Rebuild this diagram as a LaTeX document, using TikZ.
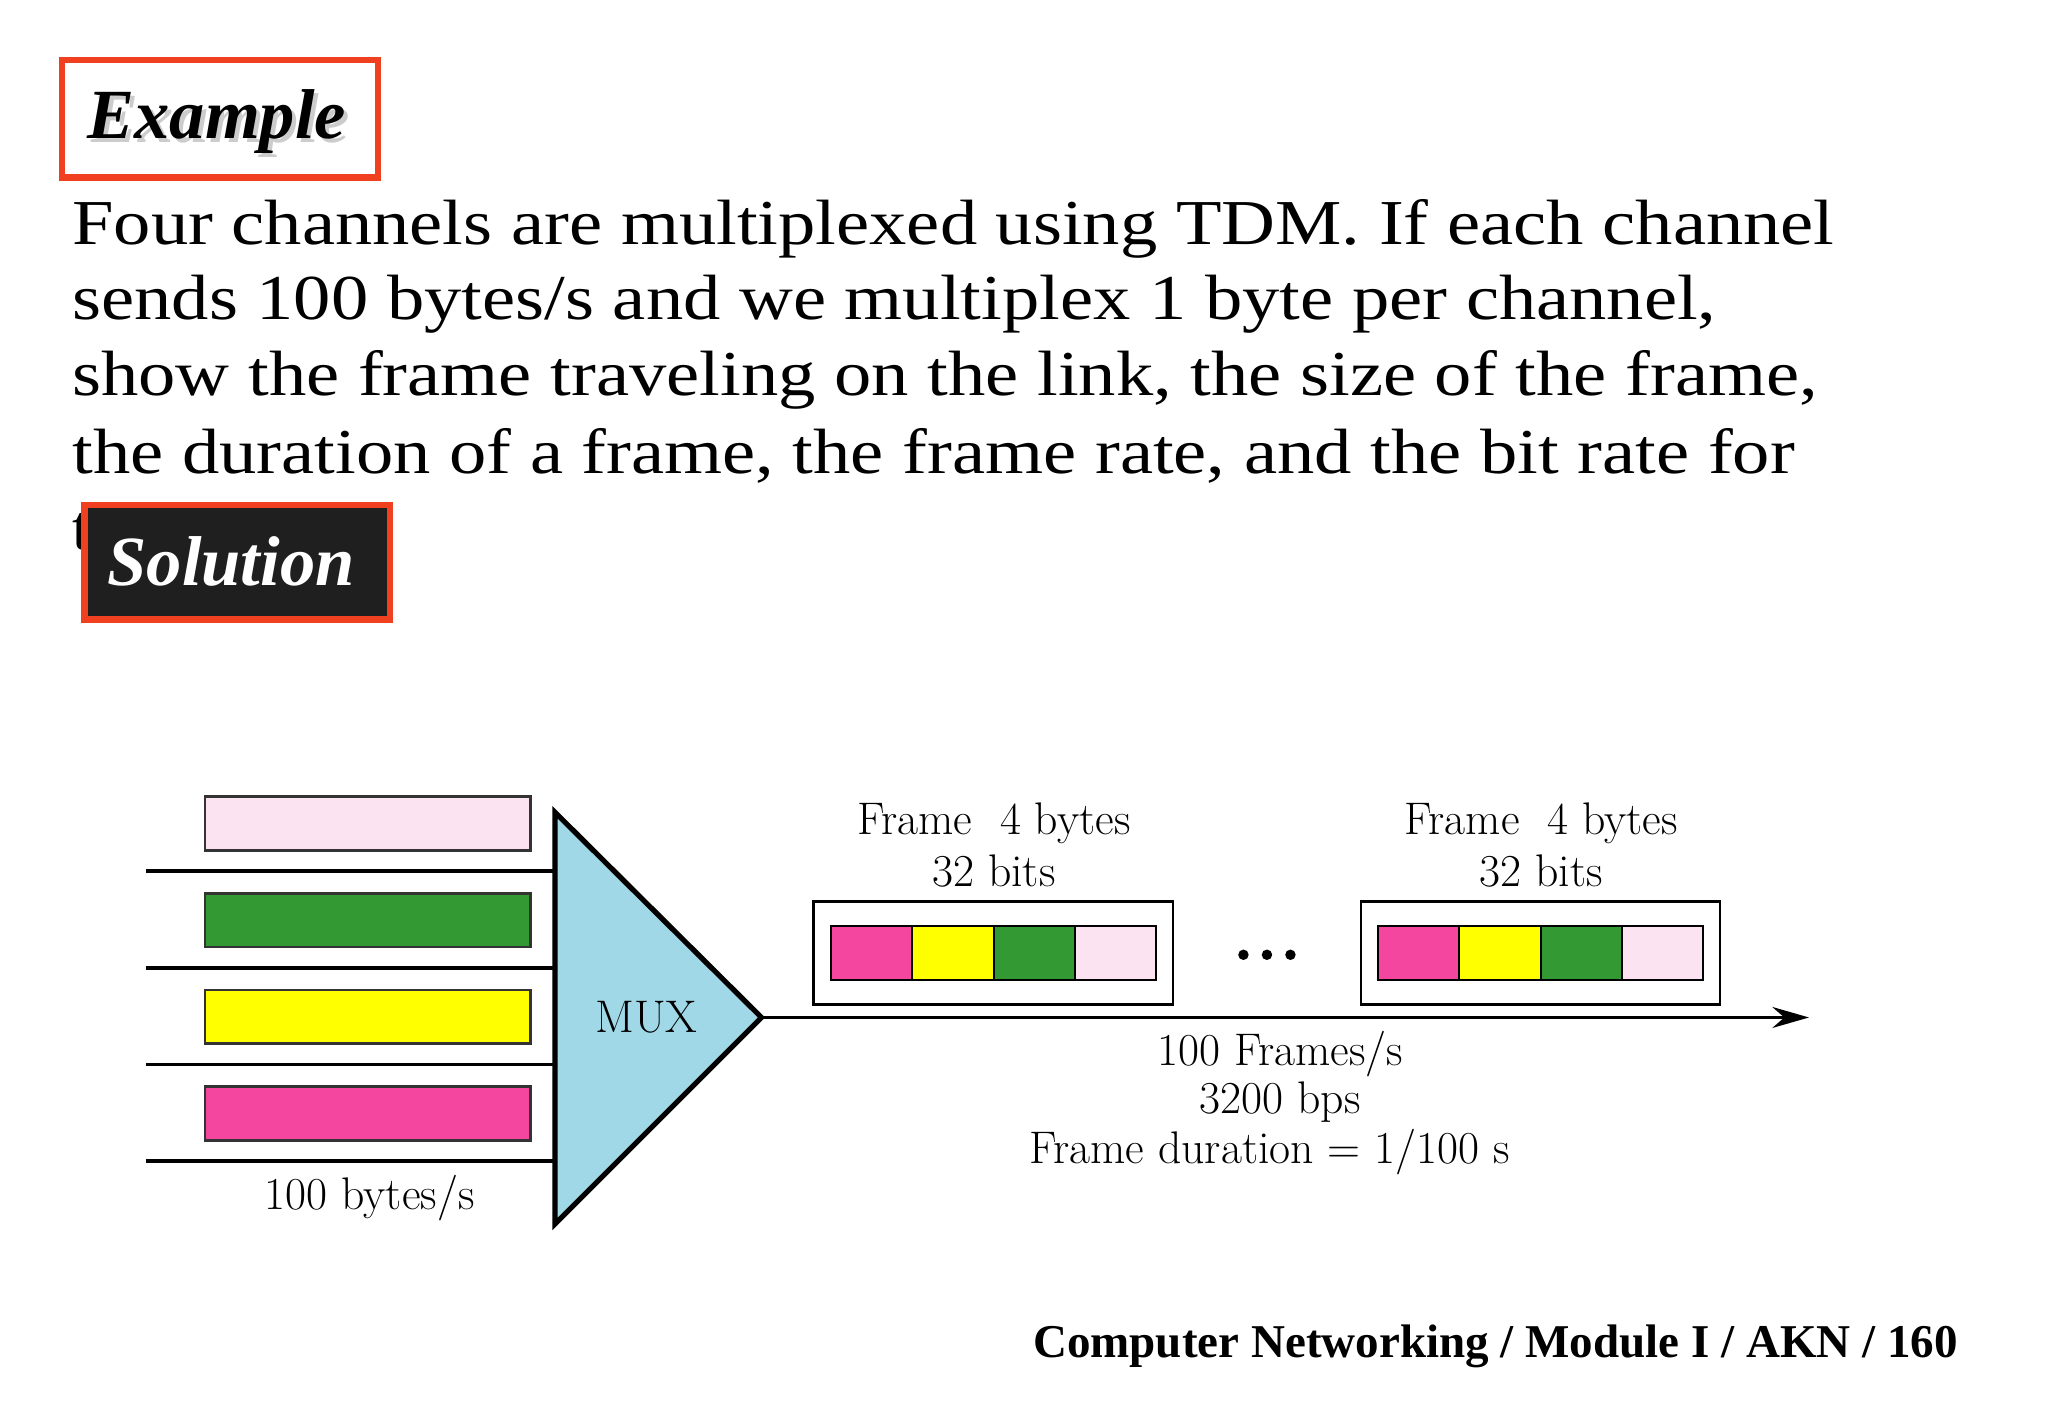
\documentclass[tikz,border=0pt]{standalone}
\usetikzlibrary{arrows.meta}
\usepackage{fontspec}
\setmainfont{Liberation Serif}
\newfontfamily\lmr{Latin Modern Roman}
\definecolor{redb}{HTML}{F04020}
\definecolor{lpink}{HTML}{FBE3F1}
\definecolor{gr}{HTML}{339933}
\definecolor{ye}{HTML}{FFFF00}
\definecolor{mag}{HTML}{F4459F}
\definecolor{muxc}{HTML}{A0D8E8}
\newcommand{\wideline}[1]{\scalebox{1.165}[1]{#1}}
\begin{document}
\begin{tikzpicture}[x=0.5pt,y=-0.5pt,
  bar/.style={draw=black!80,line width=1pt},
  lbl/.style={font=\lmr\fontsize{17.5}{20}\selectfont},
  body/.style={anchor=west,inner sep=0,font=\fontsize{24.5}{28}\selectfont},
  wire/.style={line width=1.3pt}]
\useasboundingbox[fill=white] (0,0) rectangle (1568,1085);
% Example
\node[draw=redb,line width=2.5pt,fill=white,minimum width=121pt,minimum height=45pt] (ex) at (168.5,91) {};
\node[font=\bfseries\itshape\fontsize{27}{30}\selectfont,text=black!20] at (169,96) {Example};
\node[font=\bfseries\itshape\fontsize{27}{30}\selectfont] (ext) at (166,93) {Example};
% body
\node[body] (l1) at (55,175) {\wideline{Four channels are multiplexed using TDM. If each channel}};
\node[body] (l2) at (55,233) {\wideline{sends 100 bytes/s and we multiplex 1 byte per channel,}};
\node[body] (l3) at (55,291) {\wideline{show the frame traveling on the link, the size of the frame,}};
\node[body] (l4) at (55,349) {\wideline{the duration of a frame, the frame rate, and the bit rate for}};
\node[body] (l5) at (55,407) {t};
% Solution
\node[draw=redb,line width=2.5pt,fill=black!88,minimum width=117pt,minimum height=44pt] (sol) at (181.5,430.5) {};
\node[font=\bfseries\itshape\fontsize{27}{30}\selectfont,text=white] (solt) at (177,430) {Solution};
% inputs
\fill[lpink] (157,610) rectangle (406,651); \draw[bar] (157,610) rectangle (406,651);
\fill[gr] (157,684) rectangle (406,725); \draw[bar] (157,684) rectangle (406,725);
\fill[ye] (157,758) rectangle (406,799); \draw[bar] (157,758) rectangle (406,799);
\fill[mag] (157,832) rectangle (406,873); \draw[bar] (157,832) rectangle (406,873);
\foreach \y in {667,741,815,889} \draw[wire] (112,\y) -- (425,\y);
% mux
\coordinate (mt) at (425,622); \coordinate (mb) at (425,937); \coordinate (mo) at (583,779);
\draw[fill=muxc,line width=2pt,line join=miter] (mt) -- (mo) -- (mb) -- cycle;
\node[lbl] (mux) at (495,779) {MUX};
\node[lbl] (in) at (283,917) {100 bytes/s};
% output
\coordinate (end) at (1385,779);
\draw[wire,-{Stealth[length=14pt,width=8pt]}] (mo) -- (end);
% frames
\foreach \fx/\n in {623/a,1042/b}{
  \draw[line width=1pt,fill=white] (\fx,690) rectangle ++(275,79);
  \fill[mag] (\fx+13,709) rectangle ++(62,41);
  \fill[ye] (\fx+75,709) rectangle ++(63,41);
  \fill[gr] (\fx+138,709) rectangle ++(62,41);
  \fill[lpink] (\fx+200,709) rectangle ++(62,41);
  \draw[line width=0.8pt] (\fx+13,709) rectangle ++(249,41);
  \foreach \d in {75,138,200} \draw[line width=0.8pt] (\fx+\d,709) -- ++(0,41);
  \node[lbl] (f\n1) at (\fx+138,630) {Frame\ \ 4 bytes};
  \node[lbl] (f\n2) at (\fx+138,667) {32 bits};
}
\foreach \x in {952,970,988} \fill (\x,731) circle (4);
\node[lbl] (r1) at (980,807) {100 Frames/s};
\node[lbl] (r2) at (980,844) {3200 bps};
\node[lbl] (r3) at (972,882) {Frame duration = 1/100 s};
% footer
\node[anchor=east,font=\bfseries\fontsize{18}{20}\selectfont] (foot) at (1506,1031) {Computer Networking / Module I / AKN / 160};
\end{tikzpicture}
\end{document}
